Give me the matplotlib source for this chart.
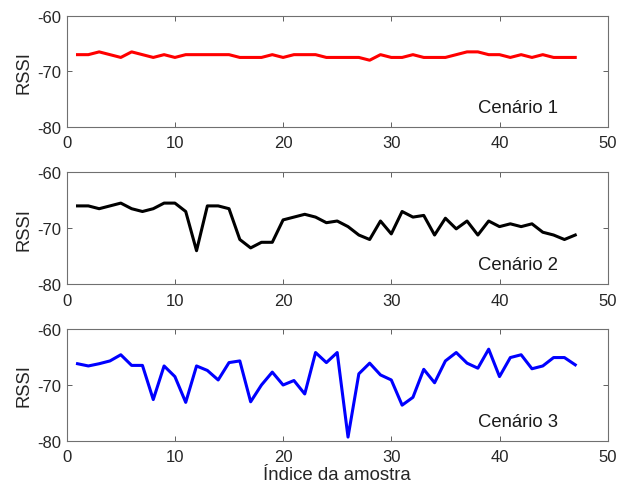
import numpy as np
import matplotlib.pyplot as plt

plt.rcParams['font.family'] = ['Liberation Sans', 'DejaVu Sans']
plt.rcParams['axes.unicode_minus'] = False

# amostras 1..47
amostra = np.arange(1, 48)

rssi_c1 = [-67, -67, -66.5, -67, -67.5, -66.5, -67, -67.5, -67, -67.5,
           -67, -67, -67, -67, -67, -67.5, -67.5, -67.5, -67, -67.5,
           -67, -67, -67, -67.5, -67.5, -67.5, -67.5, -68, -67, -67.5,
           -67.5, -67, -67.5, -67.5, -67.5, -67, -66.5, -66.5, -67, -67,
           -67.5, -67, -67.5, -67, -67.5, -67.5, -67.5]

rssi_c2 = [-66, -66, -66.5, -66, -65.5, -66.5, -67, -66.5, -65.5, -65.5,
           -67, -74, -66, -66, -66.5, -72, -73.5, -72.5, -72.5, -68.5,
           -68, -67.5, -68, -69, -68.7, -69.7, -71.2, -72, -68.7, -71,
           -67, -68, -67.7, -71.2, -68.2, -70.1, -68.7, -71.2, -68.7, -69.7,
           -69.2, -69.7, -69.2, -70.7, -71.2, -72, -71.2]

rssi_c3 = [-66.2, -66.6, -66.2, -65.7, -64.6, -66.5, -66.5, -72.6, -66.6, -68.5,
           -73.1, -66.6, -67.4, -69.1, -66, -65.7, -73, -70, -67.7, -70,
           -69.2, -71.6, -64.2, -66, -64.2, -79.3, -68, -66.1, -68.2, -69.1,
           -73.6, -72.2, -67.2, -69.6, -65.7, -64.2, -66.1, -67, -63.6, -68.5,
           -65.1, -64.6, -67.1, -66.6, -65.1, -65.1, -66.4]

series = [rssi_c1, rssi_c2, rssi_c3]
cores = ['#ff0000', '#000000', '#0000ff']
nomes = ['Cenário 1', 'Cenário 2', 'Cenário 3']

fig = plt.figure(figsize=(6.27, 4.89), dpi=100)
W, H = 627, 489
x0, x1 = 66.7, 607.7
tops = [16.7, 173.3, 330]
bottoms = [128, 285.3, 442]

axes = []
for i in range(3):
    ax = fig.add_axes([x0 / W, 1 - bottoms[i] / H, (x1 - x0) / W, (bottoms[i] - tops[i]) / H])
    ax.plot(amostra, series[i], color=cores[i], lw=2.2)
    ax.set_xlim(0, 50)
    ax.set_ylim(-80, -60)
    ax.set_xticks([0, 10, 20, 30, 40, 50])
    ax.set_yticks([-80, -70, -60])
    ax.tick_params(direction='in', top=True, right=True, length=3.6, width=0.7,
                   color='#606060', labelcolor='#262626', labelsize=12)
    ax.tick_params(axis='x', pad=6)
    ax.tick_params(axis='y', pad=4)
    for sp in ax.spines.values():
        sp.set_color('#707070')
        sp.set_linewidth(0.8)
    ax.set_ylabel('RSSI', fontsize=13.2, color='#262626', labelpad=3.5)
    ax.text(38, -77.3, nomes[i], fontsize=13.3, color='#1a1a1a', va='baseline')
    axes.append(ax)

axes[-1].set_xlabel('Índice da amostra', fontsize=13.4, color='#262626', labelpad=1.5)

fig.savefig('out.png', dpi=100)
